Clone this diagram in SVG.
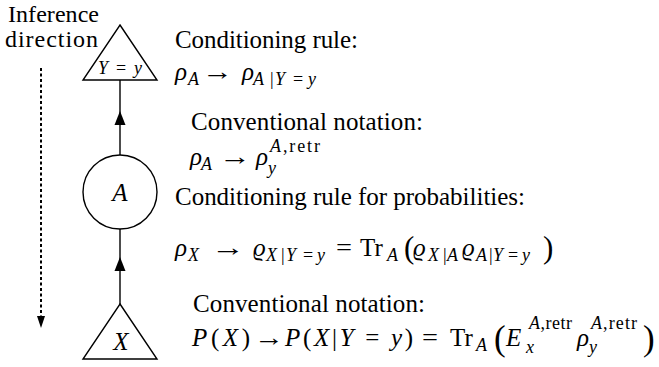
<svg xmlns="http://www.w3.org/2000/svg" width="659" height="367" viewBox="0 0 659 367">
<style>
text{font-family:'Liberation Serif','Times New Roman',Times,serif;font-size:25px;fill:#000}
.i{font-style:italic}
.s{font-size:18px}
.lab{font-size:24px}
.sm{font-size:18px}
.bp{font-size:31px}
.bq{font-size:35px}
.n{fill:#fff;stroke:#000;stroke-width:1.4}
.c{stroke:#000;stroke-width:1.4;fill:none}
.ah{fill:#000}
</style>
<rect width="659" height="367" fill="#fff"/>
<g id="inference-label">
<text class="lab" x="8" y="22" textLength="91" lengthAdjust="spacing">Inference</text>
<text class="lab" x="5" y="47" textLength="93" lengthAdjust="spacing">direction</text>
<line x1="41" y1="68" x2="41" y2="318" stroke="#000" stroke-width="2" stroke-dasharray="3,2.5"/>
<polygon class="ah" points="37,316 45,316 41,328"/>
</g>
<g id="connectors">
<line class="c" x1="120" y1="80" x2="120" y2="155"/>
<polygon class="ah" points="120,111 125.5,125 114.5,125"/>
<line class="c" x1="120" y1="229" x2="120" y2="304"/>
<polygon class="ah" points="120,257 125.5,271 114.5,271"/>
</g>
<g id="node-Y">
<polygon class="n" points="120,25 157,80 83,80"/>
<text class="sm" x="120" y="74" text-anchor="middle" textLength="44" lengthAdjust="spacing"><tspan class="i">Y</tspan> = <tspan class="i">y</tspan></text>
</g>
<g id="node-A">
<circle class="n" cx="120" cy="192" r="37"/>
<text class="i" x="120" y="201" text-anchor="middle">A</text>
</g>
<g id="node-X">
<polygon class="n" points="120,304 157,359 83,359"/>
<text class="i" x="121" y="350" text-anchor="middle">X</text>
</g>
<g id="text-conditioning">
<text x="175" y="48" textLength="183" lengthAdjust="spacing">Conditioning rule:</text>
<text class="i" x="175" y="80">ρ</text>
<text class="s i" x="188" y="85">A</text>
<text x="202" y="80" textLength="31" lengthAdjust="spacingAndGlyphs">→</text>
<text class="i" x="242" y="80">ρ</text>
<text class="s" y="85"><tspan class="i" x="253">A</tspan><tspan x="270">|</tspan><tspan class="i" x="275">Y</tspan><tspan x="293">=</tspan><tspan class="i" x="308">y</tspan></text>
</g>
<g id="text-conventional-1">
<text x="191" y="130" textLength="232" lengthAdjust="spacing">Conventional notation:</text>
<text class="i" x="190" y="165">ρ</text>
<text class="s i" x="201" y="170">A</text>
<text x="219" y="165" textLength="32" lengthAdjust="spacingAndGlyphs">→</text>
<text class="i" x="256" y="165">ρ</text>
<text class="s i" x="268" y="174">y</text>
<text class="s" x="270" y="152" textLength="50" lengthAdjust="spacing"><tspan class="i">A</tspan>,retr</text>
</g>
<g id="text-probabilities">
<text x="175" y="205" textLength="350" lengthAdjust="spacing">Conditioning rule for probabilities:</text>
<text class="i" x="175" y="256">ρ</text>
<text class="s i" x="188" y="261">X</text>
<text x="211" y="256" textLength="34" lengthAdjust="spacingAndGlyphs">→</text>
<text class="i" x="253" y="256">ϱ</text>
<text class="s" y="261"><tspan class="i" x="266">X</tspan><tspan x="281">|</tspan><tspan class="i" x="286">Y</tspan><tspan x="303">=</tspan><tspan class="i" x="317">y</tspan></text>
<text x="336" y="256" textLength="16" lengthAdjust="spacingAndGlyphs">=</text>
<text x="360" y="256">Tr</text>
<text class="s i" x="387" y="261">A</text>
<text class="bp" x="404" y="258">(</text>
<text class="i" x="413" y="256">ϱ</text>
<text class="s" y="261"><tspan class="i" x="428">X</tspan><tspan x="443">|</tspan><tspan class="i" x="447">A</tspan></text>
<text class="i" x="462" y="256">ϱ</text>
<text class="s" y="261"><tspan class="i" x="476">A</tspan><tspan x="489">|</tspan><tspan class="i" x="493">Y</tspan><tspan x="508">=</tspan><tspan class="i" x="522">y</tspan></text>
<text class="bp" x="543" y="258">)</text>
</g>
<g id="text-conventional-2">
<text x="193" y="312" textLength="232" lengthAdjust="spacing">Conventional notation:</text>
<text x="192" y="346" textLength="58" lengthAdjust="spacing"><tspan class="i">P</tspan>(<tspan class="i">X</tspan>)</text>
<text x="254" y="346" textLength="30" lengthAdjust="spacingAndGlyphs">→</text>
<text x="285" y="346" textLength="128" lengthAdjust="spacing"><tspan class="i">P</tspan>(<tspan class="i">X</tspan>|<tspan class="i">Y</tspan> = <tspan class="i">y</tspan>)</text>
<text x="422" y="346" textLength="16" lengthAdjust="spacingAndGlyphs">=</text>
<text x="450" y="346">Tr</text>
<text class="s i" x="476" y="351">A</text>
<text class="bq" x="494" y="350">(</text>
<text class="i" x="506" y="346">E</text>
<text class="s i" x="526" y="353">x</text>
<text class="s" x="529" y="329" textLength="43" lengthAdjust="spacing"><tspan class="i">A</tspan>,retr</text>
<text class="i" x="577" y="346">ρ</text>
<text class="s i" x="589" y="353">y</text>
<text class="s" x="591" y="329" textLength="46" lengthAdjust="spacing"><tspan class="i">A</tspan>,retr</text>
<text class="bq" x="643" y="350">)</text>
</g>
</svg>
